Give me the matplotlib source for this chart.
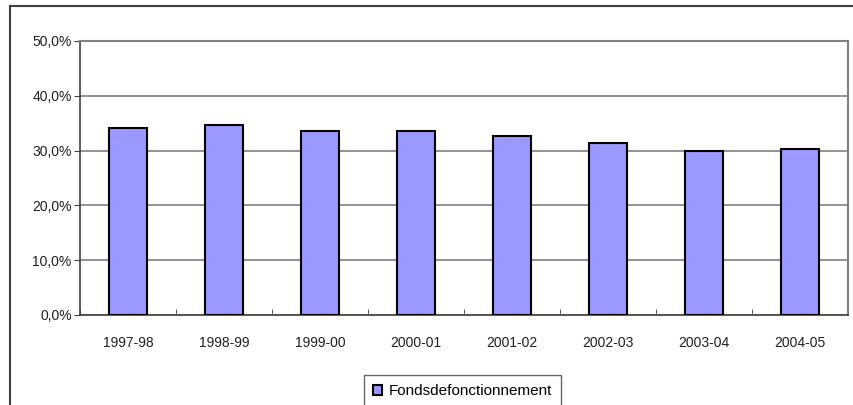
import numpy as np
import matplotlib.pyplot as plt
from matplotlib.lines import Line2D
from matplotlib.patches import Patch

# data
years = ['1997-98', '1998-99', '1999-00', '2000-01', '2001-02', '2002-03', '2003-04', '2004-05']
fonds = [34.1, 34.7, 33.6, 33.6, 32.6, 31.4, 30.0, 30.3]
yticks = [0, 10, 20, 30, 40, 50]

plt.rcParams['font.family'] = ['Liberation Sans', 'DejaVu Sans']

W, H = 854, 405
fig = plt.figure(figsize=(W / 100, H / 100), dpi=100)

# outer chart frame (only top and left are visible)
fig.add_artist(Line2D([10 / W, 10 / W], [0, 1 - 6 / H], transform=fig.transFigure,
                      color='#404040', lw=1.5))
fig.add_artist(Line2D([10 / W, 1], [1 - 6 / H, 1 - 6 / H], transform=fig.transFigure,
                      color='#404040', lw=1.5))

ax = fig.add_axes([80 / W, (H - 315) / H, 768 / W, 274 / H])
x = np.arange(len(years))
ax.bar(x, fonds, width=0.4, color='#9999ff', edgecolor='black', linewidth=1.5, zorder=3)

ax.set_xlim(-0.5, len(years) - 0.5)
ax.set_ylim(0, 50)
ax.set_yticks(yticks)
ax.set_yticklabels(['%d,0%%' % v for v in yticks], fontsize=10, color='#202020')
ax.set_xticks(x)
ax.set_xticklabels(years, fontsize=10, color='#202020')
ax.set_xticks(np.arange(-0.5, len(years)), minor=True)
ax.tick_params(axis='x', which='major', length=0, pad=15)
ax.tick_params(axis='x', which='minor', length=4, direction='in', color='#404040')
ax.tick_params(axis='y', length=4, direction='out', color='#404040', pad=2)

ax.yaxis.grid(True, color='#808080', lw=1.2, zorder=0)
ax.set_axisbelow(True)
for s in ['top', 'right']:
    ax.spines[s].set_color('#808080')
    ax.spines[s].set_linewidth(1.5)
for s in ['left', 'bottom']:
    ax.spines[s].set_color('#404040')
    ax.spines[s].set_linewidth(1.2)

handle = Patch(facecolor='#9999ff', edgecolor='black', linewidth=1.5)
leg = fig.legend([handle], ['Fondsdefonctionnement'], loc='upper left',
                 bbox_to_anchor=(364 / W, 1 - 375 / H), fontsize=11, frameon=True,
                 fancybox=False, edgecolor='#404040', handlelength=0.6, handleheight=0.6,
                 handletextpad=0.4, borderpad=0.6, borderaxespad=0)
leg.get_frame().set_linewidth(1.0)

fig.savefig('out.png', dpi=100)
